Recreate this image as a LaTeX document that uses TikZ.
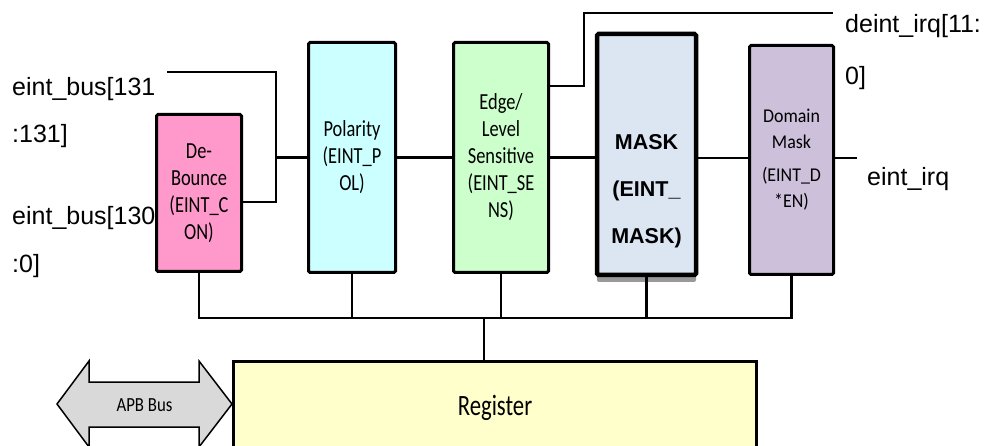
\documentclass[tikz,border=0pt]{standalone}
\usepackage{fontspec}
\setmainfont{Liberation Sans}
\newfontfamily\boxfnt[FakeStretch=0.8]{Carlito}
\newfontfamily\domfnt[FakeStretch=0.92]{Carlito}
\newfontfamily\apbfnt[FakeStretch=0.84]{Carlito}
\newfontfamily\regfnt[FakeStretch=0.77]{Carlito}
\definecolor{debpink}{HTML}{FF99CC}
\definecolor{polcyan}{HTML}{CCFFFF}
\definecolor{edgegreen}{HTML}{CCFFCC}
\definecolor{maskblue}{HTML}{DCE6F2}
\definecolor{dompurple}{HTML}{CCC0DA}
\definecolor{regyellow}{HTML}{FFFFCC}
\definecolor{apbgray}{HTML}{D9D9D9}
\begin{document}
\begin{tikzpicture}[x=1pt,y=-1pt,
  blk/.style={draw, line width=3pt, rounded corners=1.5pt, align=center, inner sep=0pt,
    font=\boxfnt\fontsize{23}{27}\selectfont},
  wire/.style={line width=2.3pt},
  lbl/.style={anchor=base west, inner sep=0pt, font=\fontsize{25}{30}\selectfont}]
\useasboundingbox (0,0) rectangle (985,446);
\clip (0,0) rectangle (985,446);

% shadow of MASK box
\fill[black!40, rounded corners=2pt] (597,40) rectangle (696,282);

% blocks
\node[blk, fill=debpink, minimum width=85pt, minimum height=157pt] (deb) at (199,193) {De-\\Bounce\\(EINT\_C\\ON)};
\node[blk, fill=polcyan, minimum width=87pt, minimum height=230pt] (pol) at (352,157.5) {Polarity\\(EINT\_P\\OL)};
\node[blk, fill=edgegreen, minimum width=95pt, minimum height=230pt] (edge) at (501,157.5) {Edge/\\Level\\Sensitive\\(EINT\_SE\\NS)};
\node[blk, fill=maskblue, line width=4.5pt, minimum width=99pt, minimum height=241pt] (mask) at (646.5,154.5) {};
\node[align=center, inner sep=0pt, font=\bfseries\fontsize{21.5}{47}\selectfont] (masklbl) at (646.5,191) {MASK\\(EINT\_\\MASK)};
\node[blk, fill=dompurple, minimum width=84pt, minimum height=229pt,
  font=\domfnt\fontsize{19.5}{26}\selectfont] (dom) at (791.5,160) {Domain\\Mask\\[7pt](EINT\_D\\*EN)};
\node[blk, fill=regyellow, rounded corners=0pt, minimum width=523pt, minimum height=93pt,
  font=\regfnt\fontsize{29.5}{34}\selectfont] (reg) at (495,408) {Register};

% APB bus double arrow
\draw[line width=1.5pt, fill=apbgray, line join=miter]
  (57,404) -- (89,361) -- (89,382) -- (199,382) -- (199,361) -- (232,404)
  -- (199,447) -- (199,427) -- (89,427) -- (89,447) -- cycle;
\node[inner sep=0pt, font=\apbfnt\fontsize{20}{24}\selectfont] (apb) at (144.5,405.5) {APB Bus};

% coordinates
\coordinate (in131) at (167,72);
\coordinate (jt) at (276,72);
\coordinate (busy) at (0,318);
\coordinate (tap) at (484,318);
\coordinate (dbend) at (584,13);
\coordinate (dout) at (833,13);
\coordinate (iout) at (857,158);

% connectors
\draw[wire] (in131) -- (jt) |- ([yshift=-9pt]deb.east);
\draw[wire] (jt |- pol.west) -- (pol.west);
\draw[wire] (pol.east) -- (edge.west);
\draw[wire] (edge.east) -- (edge.east -| mask.west);
\draw[wire] (mask.east |- iout) -- (iout -| dom.west);
\draw[wire] (iout -| dom.east) -- (iout);
\draw[wire] ([yshift=71.5pt]edge.east) -| (dbend) -- (dout);
\draw[wire] (deb.south) |- (dom.south |- busy) -- (dom.south);
\foreach \n in {pol,edge,mask} \draw[wire] (\n.south) -- (\n.south |- busy);
\draw[wire] (tap) -- (tap |- reg.north);

% labels
\node[lbl] (l131a) at (12,96) {eint\_bus[131};
\node[lbl] (l131b) at (12,143) {:131]};
\node[lbl] (l130a) at (12,225) {eint\_bus[130};
\node[lbl] (l130b) at (12,273) {:0]};
\node[lbl] (ldeinta) at (845,33) {deint\_irq[11:};
\node[lbl] (ldeintb) at (845,85) {0]};
\node[lbl] (leint) at (867,186) {eint\_irq};
\end{tikzpicture}
\end{document}
